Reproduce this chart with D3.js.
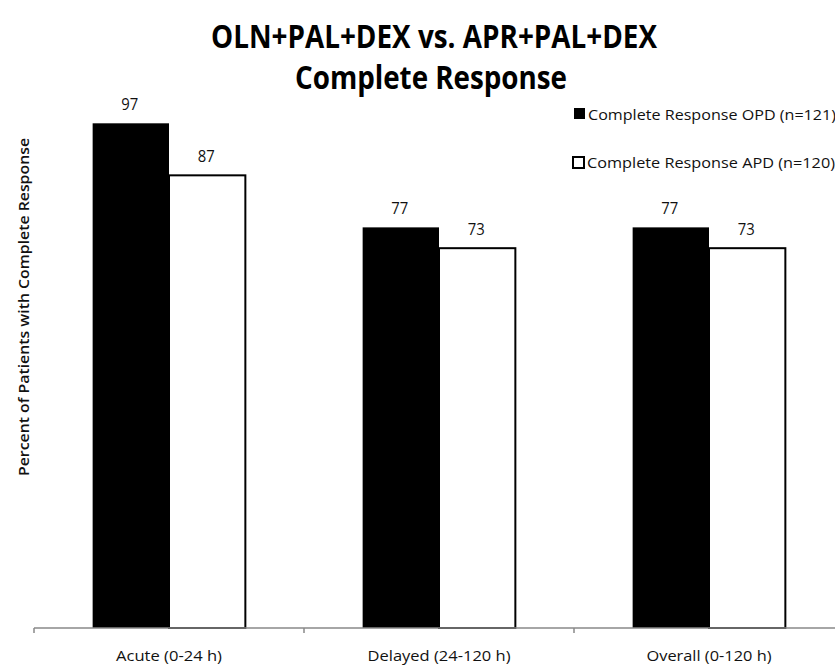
<!DOCTYPE html>
<html>
<head>
<meta charset="utf-8">
<script src="https://cdn.jsdelivr.net/npm/d3@7"></script>
<style>
  html, body { margin: 0; padding: 0; background: #fff; }
  svg { display: block; font-family: "Open Sans", "Noto Sans", sans-serif; }
</style>
</head>
<body>
<svg id="chart" width="835" height="669"></svg>
<script>
// Response periods along the x axis
const categories = ["Acute (0-24 h)", "Delayed (24-120 h)", "Overall (0-120 h)"];
// Treatment arms
const seriesNames = ["Complete Response OPD (n=121)", "Complete Response APD (n=120)"];
// Percent of patients with complete response, per arm
const opdValues = [97, 77, 77];
const apdValues = [87, 73, 73];

const titleLines = ["OLN+PAL+DEX vs. APR+PAL+DEX", "Complete Response"];
const yLabel = "Percent of Patients with Complete Response";

const svg = d3.select("#chart");
const W = 835, H = 669;
const plot = { left: 34, right: 844, top: 107.7, bottom: 628 };

const x0 = d3.scaleBand().domain(categories).range([plot.left, plot.right]).paddingInner(0).paddingOuter(0);
const x1 = d3.scaleBand().domain([0, 1]).range([0, x0.bandwidth()]).paddingOuter(0.768).paddingInner(0);
const y = d3.scaleLinear().domain([0, 100]).range([plot.bottom, plot.top]);

const colors = ["#000", "#fff"];
const rows = categories.map((c, i) => ({ cat: c, vals: [opdValues[i], apdValues[i]] }));

// squeeze a text element to a given width
function fit(sel, w) {
  sel.attr("textLength", w).attr("lengthAdjust", "spacingAndGlyphs");
}

// Title
svg.append("text").attr("x", 434).attr("y", 48).attr("text-anchor", "middle")
  .attr("font-size", 33).attr("font-weight", 700).text(titleLines[0]).call(fit, 446);
svg.append("text").attr("x", 431).attr("y", 89).attr("text-anchor", "middle")
  .attr("font-size", 33).attr("font-weight", 700).text(titleLines[1]).call(fit, 272);

// Bars
const g = svg.append("g");
const groups = g.selectAll("g.grp").data(rows).join("g").attr("class", "grp")
  .attr("transform", d => `translate(${x0(d.cat)},0)`);

groups.selectAll("rect").data(d => d.vals.map((v, k) => ({ v, k }))).join("rect")
  .attr("x", d => x1(d.k))
  .attr("y", d => y(d.v))
  .attr("width", x1.bandwidth())
  .attr("height", d => y(0) - y(d.v))
  .attr("fill", d => colors[d.k])
  .attr("stroke", "#000")
  .attr("stroke-width", d => d.k === 1 ? 2 : 0);

groups.selectAll("text.val").data(d => d.vals.map((v, k) => ({ v, k }))).join("text")
  .attr("class", "val")
  .attr("x", d => x1(d.k) + x1.bandwidth() / 2 - 1)
  .attr("y", d => y(d.v) - 13)
  .attr("text-anchor", "middle")
  .attr("font-size", 16)
  .attr("fill", "#111")
  .text(d => d.v)
  .call(fit, 17);

// X axis: ticks sit on the band boundaries
const axisG = svg.append("g").attr("transform", `translate(0,${plot.bottom})`);
axisG.append("line").attr("x1", plot.left).attr("x2", W).attr("y1", 0).attr("y2", 0)
  .attr("stroke", "#888").attr("stroke-width", 1.5);
const tickPos = categories.map(c => x0(c));
axisG.selectAll("line.tick").data(tickPos).join("line").attr("class", "tick")
  .attr("x1", d => d).attr("x2", d => d).attr("y1", 0).attr("y2", 5)
  .attr("stroke", "#888").attr("stroke-width", 1.5);

const catWidths = [106, 143, 125];
axisG.selectAll("text.cat").data(categories).join("text").attr("class", "cat")
  .attr("x", d => x0(d) + x0.bandwidth() / 2)
  .attr("y", 33)
  .attr("text-anchor", "middle")
  .attr("font-size", 15)
  .attr("fill", "#111")
  .text(d => d)
  .each(function (d, i) { d3.select(this).call(fit, catWidths[i]); });

// Y axis title
svg.append("text")
  .attr("transform", `translate(29,307) rotate(-90)`)
  .attr("text-anchor", "middle")
  .attr("font-size", 15)
  .attr("font-weight", 600)
  .attr("fill", "#111")
  .text(yLabel)
  .call(fit, 338);

// Legend
const legend = svg.append("g");
const legendRows = [
  { name: seriesNames[0], sx: 574, sy: 108, tx: 588, ty: 120, fill: "#000", sw: 0 },
  { name: seriesNames[1], sx: 573, sy: 157, tx: 587, ty: 168, fill: "#fff", sw: 2 }
];
legendRows.forEach(r => {
  legend.append("rect").attr("x", r.sx).attr("y", r.sy).attr("width", 11).attr("height", 11)
    .attr("fill", r.fill).attr("stroke", "#000").attr("stroke-width", r.sw);
  legend.append("text").attr("x", r.tx).attr("y", r.ty).attr("font-size", 14).attr("fill", "#111")
    .text(r.name).call(fit, 248);
});
</script>
</body>
</html>
